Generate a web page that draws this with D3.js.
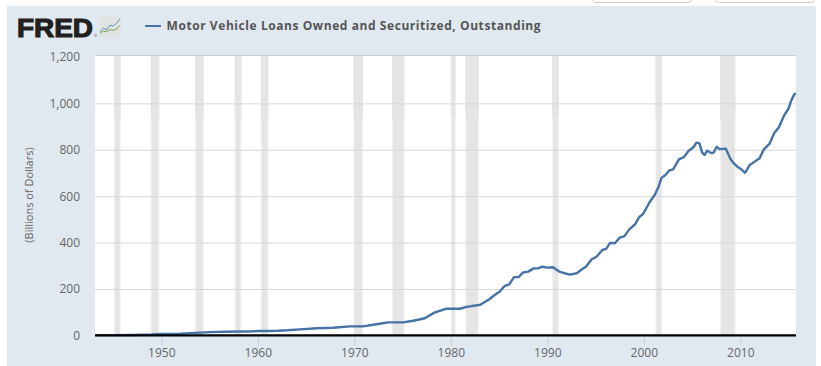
<!DOCTYPE html>
<html lang="en">
    <head>
        <meta charset="utf-8">
        <title>Motor Vehicle Loans Owned and Securitized, Outstanding</title>
        <script type="text/javascript" src="https://d3js.org/d3.v7.min.js"></script>
        <style type="text/css">
            html, body { margin: 0; padding: 0; background: #fff; }
            svg { display: block; }
            text { font-family: "Open Sans", sans-serif; }

            .line {
                fill: none;
                stroke: #4572a7;
                stroke-width: 2.4;
                stroke-linejoin: round;
            }
            .grid line { stroke: #d8d8d8; stroke-width: 1; }
            .tickLabel { font-size: 12px; fill: #666; }
            .legend { font-size: 12px; font-weight: 700; fill: #555; letter-spacing: 0.57px; }
        </style>
    </head>
    <body>
        <script type="text/javascript">
            var w = 821;
            var h = 366;

            // Values
            var years = [1943.2, 1945, 1947, 1949, 1950, 1952, 1953.5, 1955.05, 1956.55, 1958.05, 1959.05, 1960.05, 1961.05, 1962.05,
                1963.05, 1964.4, 1966.1, 1967.8, 1969.55, 1970.9, 1972.3, 1973.5, 1975.05, 1976.1, 1977.3, 1978.3, 1979.55,
                1980.95, 1981.65, 1983.05, 1983.95, 1984.55, 1985.05, 1985.55, 1986.05, 1986.55, 1987.05, 1987.47, 1988.02,
                1988.58, 1989.03, 1989.48, 1989.98, 1990.59, 1991.24, 1991.79, 1992.35, 1993.05, 1993.6, 1994, 1994.6,
                1995.1, 1995.7, 1996.1, 1996.5, 1997, 1997.5, 1998, 1998.5, 1999.1, 1999.5, 1999.93, 2000.23, 2000.63,
                2001.13, 2001.53, 2001.83, 2002.24, 2002.64, 2003.04, 2003.64, 2004.14, 2004.65, 2005.15, 2005.45, 2005.75, 2006.05,
                2006.3, 2006.55, 2007.05, 2007.25, 2007.55, 2007.85, 2008.5, 2008.95, 2009.25, 2009.75, 2010.05, 2010.5, 2010.95,
                2011.45, 2012, 2012.45, 2013.05, 2013.5, 2014, 2014.5, 2015, 2015.3, 2015.6, 2015.75];
            var loans = [1, 1, 2, 4, 6, 7, 11, 14, 16, 17, 17, 19, 19, 20,
                22, 26, 31, 33, 39, 39, 48, 56, 56, 63, 74, 98, 115,
                115, 123, 132, 155, 174, 188, 212, 220, 251, 252, 271, 275,
                289, 289, 296, 292, 294, 275, 268, 262, 268, 285, 296, 328,
                339, 368, 373, 399, 397, 421, 428, 457, 479, 509, 524, 546, 576,
                605, 641, 679, 691, 711, 716, 759, 768, 796, 811, 831, 829, 788,
                778, 796, 785, 789, 813, 803, 805, 763, 745, 725, 718, 701, 733,
                748, 764, 802, 828, 871, 897, 945, 978, 1015, 1039, 1044];

            var recessionStart = [1945.1, 1948.9, 1953.5, 1957.6, 1960.3, 1969.9, 1973.9, 1980.0, 1981.5, 1990.5, 2001.2, 2007.9];
            var recessionEnd = [1945.8, 1949.8, 1954.4, 1958.3, 1961.1, 1970.9, 1975.2, 1980.5, 1982.9, 1991.2, 2001.9, 2009.5];

            var yTicks = [0, 200, 400, 600, 800, 1000, 1200];
            var xTicks = [1950, 1960, 1970, 1980, 1990, 2000, 2010];
            var seriesName = "Motor Vehicle Loans Owned and Securitized, Outstanding";
            var yTitle = "(Billions of Dollars)";

            // Little chart on the logo
            var logoBlue = [3, 8, 6, 12, 11, 15, 21];
            var logoGreen = [1, 4, 3, 6, 5, 7, 12];

            var plotLeft = 95, plotRight = 796, plotTop = 55.5, plotBottom = 335.4;
            var bandSplit = 118; // below this the bands have pale edges in the picture

            var xScale = d3.scaleLinear().domain([1943.13, 2015.77]).range([plotLeft, plotRight]);
            var yScale = d3.scaleLinear().domain([0, 1200]).range([plotBottom, 57]);

            var svg = d3.select("body").append("svg")
                .attr("width", w)
                .attr("height", h);

            // Panel
            svg.append("rect").attr("x", 7).attr("y", 6).attr("width", 809).attr("height", 360).attr("fill", "#e1e9f0");

            // The two buttons cut off at the top of the page
            [593, 716].forEach(function(x) {
                svg.append("rect").attr("x", x - 0.5).attr("y", -8).attr("width", 99).attr("height", 10.5).attr("rx", 3)
                    .attr("fill", "#fff").attr("stroke", "#ccc");
            });

            // Plot area
            svg.append("rect").attr("x", plotLeft).attr("y", plotTop).attr("width", plotRight - plotLeft).attr("height", plotBottom - plotTop).attr("fill", "#fff");

            // Recession bands
            var bandX = function(d) { return xScale(d); };
            var bandW = function(d, i) { return xScale(recessionEnd[i]) - xScale(d); };
            var bands = svg.append("g").selectAll("g")
                .data(recessionStart)
                .enter()
                .append("g");
            bands.append("rect")
                .attr("x", bandX)
                .attr("y", plotTop)
                .attr("width", bandW)
                .attr("height", bandSplit - plotTop)
                .attr("fill", "#e5e5e5");
            bands.append("rect")
                .attr("x", bandX)
                .attr("y", bandSplit)
                .attr("width", bandW)
                .attr("height", plotBottom - bandSplit)
                .attr("fill", "#f2f2f2");
            bands.append("rect")
                .attr("x", function(d) { return bandX(d) + 1; })
                .attr("y", bandSplit)
                .attr("width", function(d, i) { return bandW(d, i) - 2; })
                .attr("height", plotBottom - bandSplit)
                .attr("fill", "#e5e5e5");

            // Grid lines
            var yAxis = d3.axisLeft(yScale).tickValues(yTicks).tickSize(-(plotRight - plotLeft)).tickFormat(d3.format(","));
            var yG = svg.append("g")
                .attr("class", "grid")
                .attr("transform", "translate(" + plotLeft + ",0)")
                .call(yAxis);
            yG.select(".domain").remove();
            yG.selectAll("text")
                .attr("class", "tickLabel")
                .attr("x", -15)
                .attr("dy", "0.32em");
            yG.selectAll(".tick").filter(function(d) { return d === 1200; }).select("line").remove();
            svg.append("line")
                .attr("x1", plotLeft).attr("x2", plotRight)
                .attr("y1", plotTop).attr("y2", plotTop)
                .attr("stroke", "#c3ced9");

            // Series
            var line = d3.line()
                .x(function(d, i) { return xScale(years[i]); })
                .y(function(d) { return yScale(d); });
            svg.append("path")
                .datum(loans)
                .attr("class", "line")
                .attr("d", line);

            // X axis
            var xAxis = d3.axisBottom(xScale).tickValues(xTicks).tickSize(10).tickPadding(3).tickFormat(d3.format("d"));
            var xG = svg.append("g")
                .attr("transform", "translate(0," + plotBottom + ")")
                .call(xAxis);
            xG.select(".domain").remove();
            xG.selectAll("line").attr("stroke", "#c0d0e0");
            xG.selectAll("text").attr("class", "tickLabel");

            svg.append("line")
                .attr("x1", plotLeft).attr("x2", plotRight)
                .attr("y1", plotBottom).attr("y2", plotBottom)
                .attr("stroke", "#000").attr("stroke-width", 2.2);

            // Y title
            svg.append("text")
                .attr("class", "tickLabel")
                .attr("transform", "translate(33,195) rotate(-90)")
                .attr("text-anchor", "middle")
                .style("font-size", "11px")
                .text(yTitle);

            // Legend
            svg.append("line")
                .attr("x1", 145).attr("x2", 161)
                .attr("y1", 26).attr("y2", 26)
                .attr("stroke", "#4572a7").attr("stroke-width", 2);
            svg.append("text")
                .attr("class", "legend")
                .attr("x", 166.5)
                .attr("y", 30)
                .text(seriesName);

            // FRED logo
            svg.append("text")
                .attr("x", 17)
                .attr("y", 36.5)
                .attr("textLength", 76)
                .attr("lengthAdjust", "spacingAndGlyphs")
                .attr("fill", "#231f20")
                .attr("stroke", "#231f20")
                .attr("stroke-width", 1.1)
                .style("font-family", "'Liberation Sans', sans-serif")
                .style("font-weight", 700)
                .style("font-size", "26px")
                .text("FRED");
            svg.append("text")
                .attr("x", 94)
                .attr("y", 37)
                .attr("fill", "#555")
                .style("font-size", "4px")
                .text("®");
            svg.append("rect").attr("x", 99).attr("y", 17).attr("width", 22).attr("height", 20).attr("rx", 1).attr("fill", "#dfe3e2");
            var logoX = d3.scaleLinear().domain([0, 6]).range([100, 120]);
            var logoY = d3.scaleLinear().domain([0, 22]).range([34, 18]);
            var logoLine = d3.line()
                .x(function(d, i) { return logoX(i); })
                .y(function(d) { return logoY(d); });
            svg.append("path").attr("d", logoLine(logoBlue)).attr("fill", "none").attr("stroke", "#5c8fb5").attr("stroke-width", 1);
            svg.append("path").attr("d", logoLine(logoGreen)).attr("fill", "none").attr("stroke", "#7da04a").attr("stroke-width", 1);
        </script>
    </body>
</html>
